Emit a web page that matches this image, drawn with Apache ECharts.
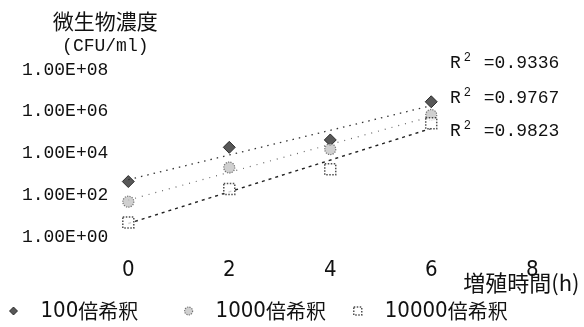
<!DOCTYPE html>
<html><head><meta charset="utf-8">
<script src="https://cdn.jsdelivr.net/npm/echarts@6/dist/echarts.min.js"></script>
<style>html,body{margin:0;padding:0;background:#fff}#c{width:584px;height:327px}</style>
</head><body><div id="c"></div>
<script>
// Growth of microbial concentration after dilution (log scale)
const hours = [0, 2, 4, 6];
const seriesNames = ['100倍希釈', '1000倍希釈', '10000倍希釈'];
const dil100 = [450, 19500, 44000, 2950000];
const dil1000 = [49, 2100, 16000, 690000];
const dil10000 = [5, 200, 1750, 275000];
const rSquared = ['0.9336', '0.9767', '0.9823'];
const xTicks = [0, 2, 4, 6, 8];
const yTickLabels = ['1.00E+00', '1.00E+02', '1.00E+04', '1.00E+06', '1.00E+08'];

const MONO = "'Liberation Mono', 'DejaVu Sans Mono', monospace";
const NARROW = "'Liberation Sans Narrow', 'DejaVu Sans Condensed', sans-serif";
const CJK = "'Noto Sans CJK JP', sans-serif";

// Exponential trendline: least squares on log10(y) against hours
function expTrend(xs, ys) {
  const ly = ys.map(v => Math.log10(v));
  const n = xs.length;
  const mx = xs.reduce((a, b) => a + b, 0) / n;
  const my = ly.reduce((a, b) => a + b, 0) / n;
  let sxy = 0, sxx = 0;
  for (let i = 0; i < n; i++) { sxy += (xs[i] - mx) * (ly[i] - my); sxx += (xs[i] - mx) ** 2; }
  const b = sxy / sxx, a = my - b * mx;
  const x0 = xs[0], x1 = xs[n - 1];
  return [[x0, Math.pow(10, a + b * x0)], [x1, Math.pow(10, a + b * x1)]];
}

const values = [dil100, dil1000, dil10000];
const markerStyles = [
  { symbol: 'diamond', symbolSize: 12, itemStyle: { color: '#2e2e2e', borderColor: '#111', borderWidth: 1 } },
  { symbol: 'circle', symbolSize: 11, itemStyle: { color: '#c4c4c4', borderColor: '#555', borderWidth: 1.2, borderType: 'dotted' } },
  { symbol: 'rect', symbolSize: 11, itemStyle: { color: '#fff', borderColor: '#222', borderWidth: 1.5, borderType: 'dotted' } }
];
const trendStyles = [
  { color: '#333', width: 1.3, type: [1.5, 5] },
  { color: '#666', width: 1.2, type: [1, 6] },
  { color: '#222', width: 1.4, type: [3, 4] }
];

const series = [];
values.forEach((vals, i) => {
  series.push(Object.assign({
    name: seriesNames[i], type: 'scatter', z: 3,
    data: hours.map((h, j) => [h, vals[j]])
  }, markerStyles[i]));
  series.push({
    name: seriesNames[i] + ' 近似', type: 'line', z: 2, silent: true,
    showSymbol: false, symbol: 'none',
    data: expTrend(hours, vals),
    lineStyle: trendStyles[i]
  });
});

const legendLefts = [4, 179, 348];
const legends = seriesNames.map((nm, i) => ({
  data: [{ name: nm, icon: markerStyles[i].symbol }],
  left: legendLefts[i], top: 295,
  itemWidth: 8, itemHeight: 8,
  itemStyle: markerStyles[i].itemStyle,
  formatter: s => { const m = s.match(/^(\d+)(.*)$/); return '{n|' + m[1] + '}{c|' + m[2] + '}'; },
  textStyle: {
    padding: [0, 0, 0, 18],
    rich: {
      n: { fontFamily: NARROW, fontSize: 22, color: '#111' },
      c: { fontFamily: CJK, fontSize: 20, color: '#111' }
    }
  }
}));

const chart = echarts.init(document.getElementById('c'), null, { renderer: 'canvas' });
chart.setOption({
  animation: false,
  backgroundColor: '#fff',
  grid: { left: 128.3, right: 51.8, top: 69.8, bottom: 90, containLabel: false, outerBoundsMode: 'none' },
  xAxis: {
    type: 'value', min: 0, max: 8, interval: 2,
    axisLine: { show: false }, axisTick: { show: false }, splitLine: { show: false },
    axisLabel: {
      margin: 22, fontFamily: NARROW, fontSize: 22, color: '#111',
      formatter: v => xTicks.includes(v) ? String(v) : ''
    },
    // blank lines push the axis title below the tick labels
    name: '\n\n\n\n増殖時間(h)', nameLocation: 'end', nameGap: -69,
    nameMoveOverlap: false,
    nameTextStyle: {
      fontFamily: CJK, fontSize: 22, color: '#111', lineHeight: 23,
      align: 'left', verticalAlign: 'middle', overflow: 'none'
    }
  },
  yAxis: {
    type: 'log', logBase: 10, min: 1, max: 1e8,
    axisLine: { show: false }, axisTick: { show: false }, splitLine: { show: false },
    axisLabel: {
      margin: 20, fontFamily: MONO, fontSize: 18, color: '#111',
      formatter: v => {
        const e = Math.round(Math.log10(v));
        return e % 2 === 0 ? yTickLabels[e / 2] : '';
      }
    },
    name: '{t|微生物濃度}\n{u|(CFU/ml)}', nameLocation: 'end', nameGap: 12,
    nameTextStyle: {
      align: 'center', padding: [0, 46, 0, 0],
      rich: {
        t: { fontFamily: CJK, fontSize: 21, color: '#111', lineHeight: 26, align: 'center' },
        u: { fontFamily: MONO, fontSize: 18, color: '#111', lineHeight: 24, align: 'center' }
      }
    }
  },
  legend: legends,
  graphic: rSquared.map((r, i) => ({
    type: 'text', left: 450, top: [52, 87, 120][i],
    style: {
      text: '{r|R}{s|2}{r| =' + r + '}',
      rich: {
        r: { fontFamily: MONO, fontSize: 18, fill: '#111' },
        s: { fontFamily: MONO, fontSize: 12, fill: '#111', verticalAlign: 'top', padding: [0, 2, 10, 3] }
      }
    }
  })),
  series: series
});
</script></body></html>
